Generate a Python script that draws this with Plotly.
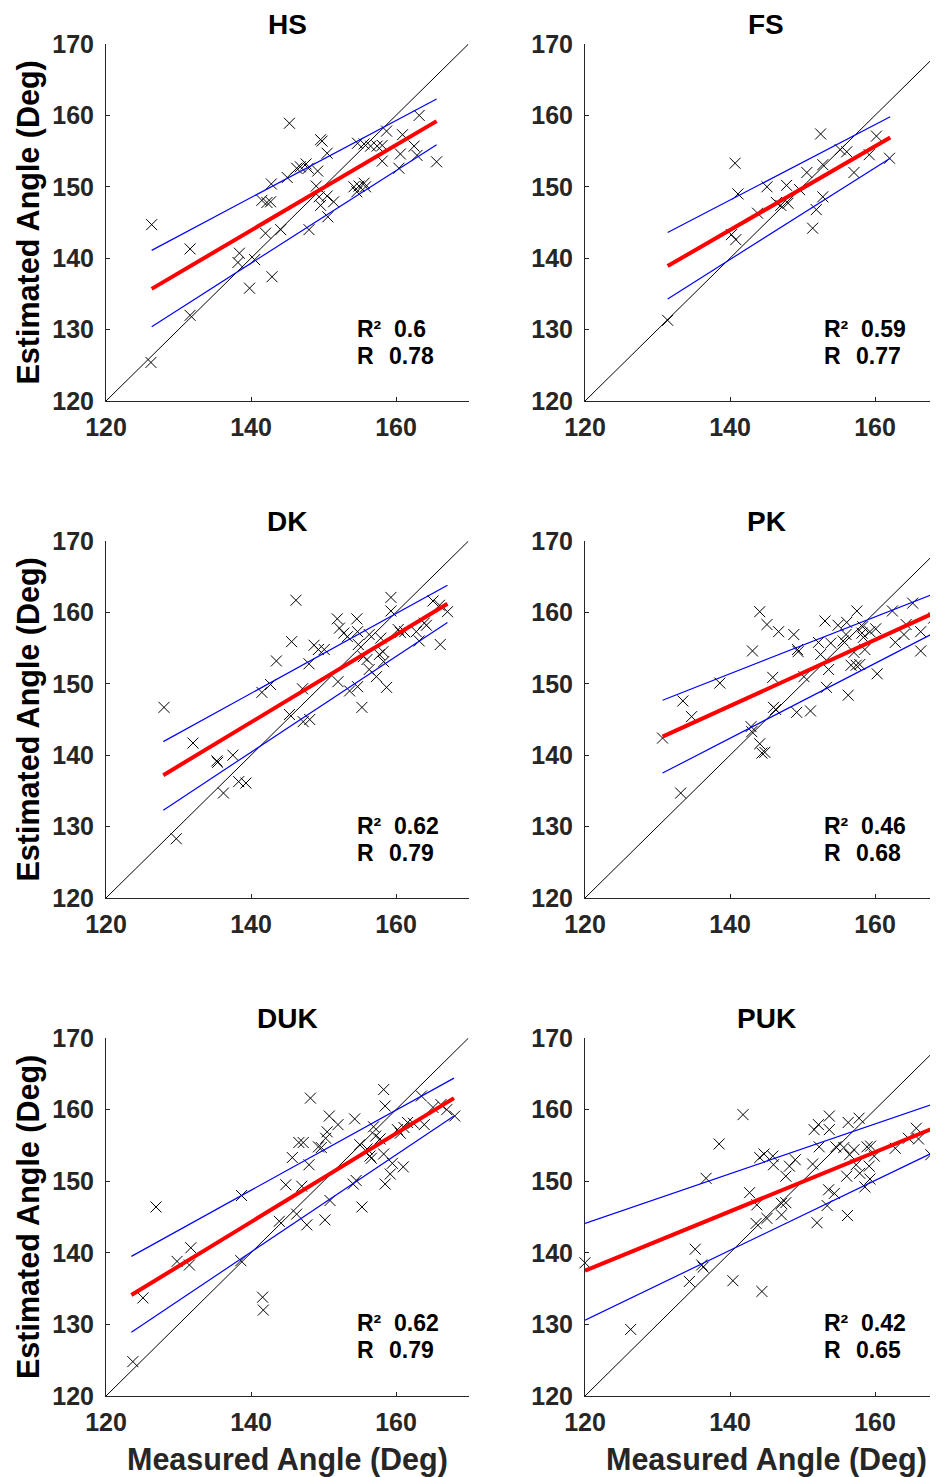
import plotly.graph_objects as go

# The page body has an 8px margin, so the figure is drawn 8px in from the window corner.
OFF = 8
W, H = 938 - OFF, 1477 - OFF

panel_names = ["HS", "FS", "DK", "PK", "DUK", "PUK"]
r2_values = ["0.6", "0.59", "0.62", "0.46", "0.62", "0.42"]
r_values = ["0.78", "0.77", "0.79", "0.68", "0.79", "0.65"]
x_ticks = [120, 140, 160]
y_ticks = [120, 130, 140, 150, 160, 170]
identity_line = [120, 170]

hs_x = [126.3,131.6,131.6,126.2,145.3,138.4,138.2,140.5,139.8,142.9,142.0,144.1,141.5,142.2,142.7,142.8,145.0,146.3,146.8,147.6,147.9,149.2,149.6,149.8,150.5,149.0,149.4,150.5,149.6,151.4,150.6,148.0,154.2,154.6,154.9,155.6,155.8,154.7,155.6,156.5,157.4,158.1,158.7,158.1,160.9,160.6,160.4,162.5,162.9,163.2,165.6]
hs_y = [144.7,141.3,132.0,125.4,158.9,140.7,139.4,139.8,135.8,137.4,143.5,144.0,148.1,147.8,147.9,150.4,151.3,152.6,152.8,153.2,152.6,152.2,156.6,156.4,154.7,150.1,148.6,148.7,147.4,147.9,145.8,144.0,150.0,149.3,150.1,150.5,150.0,156.1,156.0,155.7,155.7,155.8,157.8,153.6,157.3,154.6,152.6,155.7,154.4,160.0,153.5]
hs_fit_x = [126.3, 165.6]
hs_fit_y = [135.7, 159.2]
hs_upper = [141.1, 162.3]
hs_lower = [130.4, 155.9]

fs_x = [131.4,140.7,141.1,140.2,140.8,143.8,145.1,146.4,147.0,147.8,148.0,149.6,150.6,152.5,152.8,152.8,151.9,151.4,155.2,156.1,157.1,159.2,160.2,162.0]
fs_y = [131.3,153.3,149.0,143.3,142.6,146.3,150.0,147.8,147.4,150.2,147.7,149.6,152.0,157.4,153.1,148.6,146.8,144.2,155.2,154.9,152.0,154.5,157.1,154.0]
fs_fit_x = [131.4, 162.1]
fs_fit_y = [138.9, 156.9]
fs_upper = [143.6, 159.8]
fs_lower = [134.3, 154.0]

dk_x = [128.0,132.0,129.7,135.3,135.4,137.5,136.2,138.3,139.3,141.5,142.7,143.5,145.6,146.2,145.3,147.1,147.2,148.1,148.0,148.7,149.3,150.1,151.9,152.2,152.8,153.3,154.6,154.7,154.8,155.5,156.0,156.3,152.0,153.6,154.7,155.3,156.3,157.3,157.7,158.2,158.3,158.7,157.9,159.3,159.3,160.3,160.6,161.2,162.8,163.2,163.9,164.2,165.1,166.0,166.1,167.1]
dk_y = [146.7,141.7,128.3,139.2,139.0,140.0,134.7,136.3,136.1,148.8,149.9,153.2,155.9,161.7,145.7,149.3,144.7,145.0,152.8,155.4,154.8,154.8,159.1,157.8,157.1,156.6,159.1,157.3,155.5,153.8,153.4,156.9,150.3,149.0,149.6,146.7,152.0,151.0,154.1,154.5,153.1,149.5,156.4,162.1,160.2,157.6,157.2,157.3,157.3,156.0,158.5,158.2,161.6,161.0,155.5,160.1]
dk_fit_x = [127.9, 167.1]
dk_fit_y = [137.2, 161.2]
dk_upper = [141.9, 163.8]
dk_lower = [132.3, 158.6]

pk_x = [130.7,133.2,133.5,134.7,138.6,142.9,143.0,144.1,144.4,144.8,143.1,144.1,145.1,146.7,145.9,146.0,146.3,148.8,149.3,149.4,149.2,150.2,151.1,152.2,152.5,153.1,153.6,153.3,153.9,154.9,155.6,156.0,156.1,156.3,156.7,157.1,157.5,157.4,157.9,158.2,158.4,158.3,158.6,159.3,160.1,160.3,162.4,162.8,164.0,165.2,164.3,166.3,166.3,168.1]
pk_y = [142.4,134.7,147.6,145.4,150.1,144.0,143.3,141.6,140.3,140.4,154.6,160.1,158.3,157.3,150.9,146.7,146.4,156.9,154.8,154.5,146.0,151.0,146.2,155.8,154.1,158.8,152.0,149.5,155.7,158.2,156.0,156.9,158.6,148.4,152.6,154.4,160.2,152.6,152.7,157.1,156.5,158.0,154.8,157.3,157.7,151.4,160.2,155.8,156.9,161.3,158.3,157.3,154.6,159.2]
pk_fit_x = [130.7, 168.1]
pk_fit_y = [142.6, 159.9]
pk_upper = [147.7, 162.6]
pk_lower = [137.5, 157.1]

duk_x = [123.7,125.1,126.9,129.8,131.5,131.7,138.7,138.6,141.6,141.7,143.9,144.8,145.7,146.3,146.6,147.2,147.0,147.7,148.0,148.2,149.3,149.7,150.3,150.5,150.8,150.9,150.2,152.0,154.3,154.1,154.5,155.3,155.0,156.0,156.4,156.6,156.9,157.2,157.8,158.3,158.3,158.5,158.5,159.2,159.5,160.2,160.6,161.0,161.1,161.6,162.4,163.5,163.9,165.1,166.2,167.0,168.1]
duk_y = [124.8,133.7,146.4,138.8,138.3,140.7,148.0,138.9,133.8,132.0,144.4,149.5,153.3,145.4,155.4,155.4,149.3,143.9,152.3,161.6,154.8,154.7,156.0,156.9,159.1,147.3,144.6,157.9,158.7,149.6,150.1,146.4,155.1,154.5,153.5,153.2,157.6,156.3,155.9,153.8,162.8,160.5,149.6,151.0,152.5,157.2,156.7,152.0,157.5,158.2,158.1,161.9,157.9,160.3,160.7,160.0,159.1]
duk_fit_x = [123.5, 168.0]
duk_fit_y = [134.1, 161.6]
duk_upper = [139.5, 164.4]
duk_lower = [128.9, 159.1]

puk_x = [120.0,126.3,134.4,135.2,136.1,136.3,136.7,138.5,140.4,141.8,142.7,143.7,143.6,144.4,144.1,144.7,145.9,146.0,145.1,147.1,147.7,147.1,147.7,148.2,149.0,151.4,151.6,152.2,152.3,152.0,153.7,153.7,153.6,153.4,154.4,154.6,155.7,156.3,156.5,156.1,156.2,157.1,157.4,157.8,157.9,158.6,158.9,159.4,159.2,159.3,159.9,162.8,164.6,165.7,166.0,167.7]
puk_y = [138.6,129.3,136.0,140.5,138.3,138.0,150.4,155.2,136.1,159.3,148.4,146.7,144.1,134.6,153.3,153.8,153.5,152.3,144.8,146.9,147.0,145.3,150.7,152.1,153.0,152.4,157.2,157.9,154.8,144.2,159.1,157.2,148.8,146.6,148.3,154.8,154.7,158.2,153.7,150.7,145.2,154.4,152.3,158.8,151.1,149.2,154.8,154.9,152.1,150.3,153.5,154.6,156.0,157.4,155.9,153.7]
puk_fit_x = [120.0, 167.8]
puk_fit_y = [137.5, 157.3]
puk_upper = [144.1, 160.7]
puk_lower = [130.6, 153.9]

panels = [
    (hs_x, hs_y, hs_fit_x, hs_fit_y, hs_upper, hs_lower),
    (fs_x, fs_y, fs_fit_x, fs_fit_y, fs_upper, fs_lower),
    (dk_x, dk_y, dk_fit_x, dk_fit_y, dk_upper, dk_lower),
    (pk_x, pk_y, pk_fit_x, pk_fit_y, pk_upper, pk_lower),
    (duk_x, duk_y, duk_fit_x, duk_fit_y, duk_upper, duk_lower),
    (puk_x, puk_y, puk_fit_x, puk_fit_y, puk_upper, puk_lower),
]

FONT = "Liberation Sans"
AXC = "#262626"

# window pixel -> paper coordinate
def px(x):
    return (x - OFF) / W

def py(y):
    return 1 - (y - OFF) / H

# geometry in window pixels
col_left = [106, 585]
px_per_deg = 7.25
row_top = [44, 541, 1038]
row_bottom = [401, 898, 1396]

fig = go.Figure()
annotations = []
layout = {}

def txt(text, x, y, size=23, color="black", xanchor="left", angle=0):
    return dict(text=text, x=px(x), y=py(y), xref="paper", yref="paper",
                showarrow=False, xanchor=xanchor, yanchor="middle", textangle=angle,
                font=dict(family=FONT, size=size, color=color, weight="bold"))

for i, (xs, ys, fx, fy, up, lo) in enumerate(panels):
    r, c = divmod(i, 2)
    n = "" if i == 0 else str(i + 1)
    xref = "x" + n
    yref = "y" + n
    x0 = col_left[c]
    x1 = min(x0 + 50 * px_per_deg, 938)
    xmax = 120 + (x1 - x0) / px_per_deg

    fig.add_trace(go.Scatter(x=xs, y=ys, mode="markers", xaxis=xref, yaxis=yref,
                             marker=dict(symbol="x-thin", size=11, color="black",
                                         line=dict(color="black", width=1)),
                             cliponaxis=False, showlegend=False, hoverinfo="skip"))
    fig.add_trace(go.Scatter(x=identity_line, y=identity_line, mode="lines",
                             xaxis=xref, yaxis=yref,
                             line=dict(color="black", width=1), showlegend=False))
    fig.add_trace(go.Scatter(x=fx, y=up, mode="lines", xaxis=xref, yaxis=yref,
                             line=dict(color="#0000ff", width=1.2), showlegend=False))
    fig.add_trace(go.Scatter(x=fx, y=lo, mode="lines", xaxis=xref, yaxis=yref,
                             line=dict(color="#0000ff", width=1.2), showlegend=False))
    fig.add_trace(go.Scatter(x=fx, y=fy, mode="lines", xaxis=xref, yaxis=yref,
                             line=dict(color="#ff0000", width=4), showlegend=False))

    axcommon = dict(showgrid=False, zeroline=False, showline=True, linecolor=AXC,
                    linewidth=1, ticks="inside", ticklen=4, tickcolor=AXC,
                    tickfont=dict(family=FONT, size=25, color=AXC, weight="bold"),
                    mirror=False, automargin=False)
    layout["xaxis" + n] = dict(domain=[px(x0), min(px(x1), 1.0)], range=[120, xmax],
                               tickvals=x_ticks, anchor=yref,
                               ticklabelstandoff=4, **axcommon)
    layout["yaxis" + n] = dict(domain=[py(row_bottom[r]), py(row_top[r])],
                               range=[120, 170], tickvals=y_ticks, anchor=xref,
                               ticklabelstandoff=6, **axcommon)

    cx = col_left[c] + 25 * px_per_deg
    annotations.append(txt(panel_names[i], cx, row_top[r] - 20, size=28, xanchor="center"))
    ax = [355, 822][c]
    annotations.append(txt("R\u00b2", ax, row_top[r] + 285))
    annotations.append(txt(r2_values[i], ax + 37, row_top[r] + 285))
    annotations.append(txt("R", ax, row_top[r] + 312))
    annotations.append(txt(r_values[i], ax + 32, row_top[r] + 312))
    if c == 0:
        annotations.append(txt("Estimated Angle (Deg)", 28,
                               (row_top[r] + row_bottom[r]) / 2, size=30.5,
                               xanchor="center", angle=-90))
    if r == 2:
        annotations.append(txt("Measured Angle (Deg)", cx, 1459, size=30.5,
                               color=AXC, xanchor="center"))

fig.update_layout(template="none", width=W, height=H,
                  margin=dict(l=0, r=0, t=0, b=0, autoexpand=False),
                  paper_bgcolor="white", plot_bgcolor="white",
                  annotations=annotations, **layout)
fig.write_html("out.html")
